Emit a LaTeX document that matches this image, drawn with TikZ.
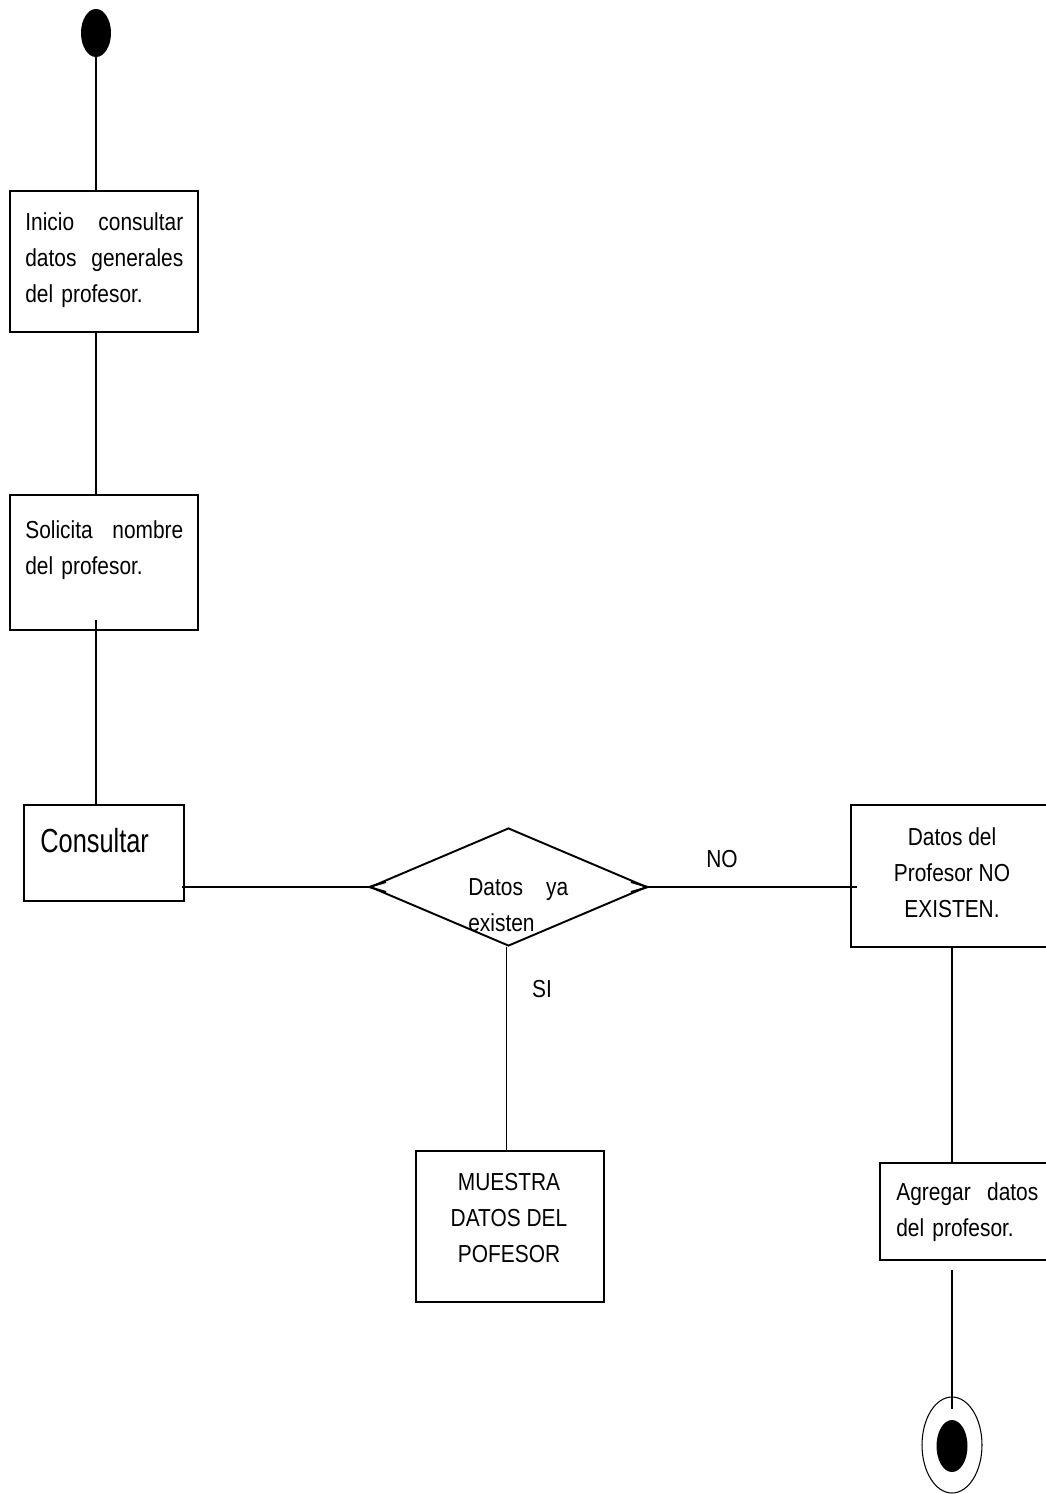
\documentclass[tikz,border=0pt]{standalone}
\usepackage{fontspec}
\setmainfont{Liberation Sans}[FakeStretch=0.85]
\newfontfamily\narrowfont{Liberation Sans}[FakeStretch=0.76]
\usetikzlibrary{shapes.geometric}
\begin{document}
\begin{tikzpicture}[x=0.02cm,y=-0.02cm,
  box/.style={draw, line width=1.1pt, inner sep=0, anchor=north west},
  txt/.style={inner sep=0, font=\fontsize{14}{20.5}\selectfont, align=left, anchor=north west},
  ctxt/.style={inner sep=0, font=\fontsize{14}{20.5}\selectfont, align=center, anchor=north},
  conn/.style={line width=1.1pt}]
\useasboundingbox (0,0) rectangle (1045,1494);
% start
\node[ellipse, fill=black, minimum width=0.6cm, minimum height=0.96cm, inner sep=0] (start) at (96,33) {};
% boxes
\node[box, minimum width=3.76cm, minimum height=2.82cm] (b1) at (9,190) {};
\node[txt, text width=3.16cm] (t1) at (25,212) {Inicio\hfill consultar\\ datos\hfill generales\\ del profesor.};
\node[box, minimum width=3.76cm, minimum height=2.70cm] (b2) at (9,494) {};
\node[txt, text width=3.16cm] (t2) at (25,520) {Solicita\hfill nombre\\ del profesor.};
\node[box, minimum width=3.2cm, minimum height=1.92cm] (b3) at (23,804) {};
\node[inner sep=0, anchor=base west, font=\narrowfont\fontsize{19}{22}\selectfont] (t3) at (40,852) {Consultar};
\node[diamond, draw, line width=1.1pt, minimum width=5.54cm, minimum height=2.36cm, inner sep=0] (d) at (508.5,887) {};
\node[txt, text width=2.0cm] (td) at (468,878) {Datos\hfill ya\\ existen};
\node[box, minimum width=4.2cm, minimum height=2.84cm] (b4) at (850,804) {};
\node[ctxt] (t4) at (952,827) {Datos del\\ Profesor NO\\ EXISTEN.};
\node[box, minimum width=3.76cm, minimum height=3.02cm] (b5) at (415,1150) {};
\node[ctxt] (t5) at (509,1173) {MUESTRA\\ DATOS DEL\\ POFESOR};
\node[box, minimum width=3.6cm, minimum height=1.94cm] (b6) at (879,1162) {};
\node[txt, text width=2.84cm] (t6) at (896,1182) {Agregar\hfill datos\\ del profesor.};
% end
\node[ellipse, draw, line width=0.6pt, minimum width=1.2cm, minimum height=1.92cm, inner sep=0] (endo) at (952,1445) {};
\node[ellipse, fill=black, minimum width=0.62cm, minimum height=1.04cm, inner sep=0] (endi) at (952,1446) {};
% labels
\node[inner sep=0, font=\fontsize{14}{17}\selectfont] (lno) at (722,859) {NO};
\node[inner sep=0, font=\fontsize{14}{17}\selectfont] (lsi) at (542,989) {SI};
% connectors
\draw[conn] (start.south) -- (start.south |- b1.north);
\draw[conn] (start.south |- b1.south) -- (start.south |- b2.north);
\draw[conn] ([yshift=0.22cm]start.south |- b2.south) -- (start.south |- b3.north);
\draw[conn] ([xshift=-0.06cm]b3.east |- d.west) -- (d.west);
\draw[conn] (d.east) -- ([xshift=0.14cm]b4.west |- d.east);
\draw[conn] ([xshift=-0.04cm]d.south) -- ([xshift=-0.04cm]d.south |- b5.north);
\draw[conn] (endo.north |- b4.south) -- (endo.north |- b6.north);
\draw[conn] ([yshift=-0.18cm]endo.north |- b6.south) -- ([yshift=-0.26cm]endo.north);
% chevrons at diamond vertices
\draw[conn] ([shift={(17,-5)}]d.west) -- (d.west) -- ([shift={(17,5)}]d.west);
\draw[conn] ([shift={(-17,-5)}]d.east) -- (d.east) -- ([shift={(-17,5)}]d.east);
\end{tikzpicture}
\end{document}
